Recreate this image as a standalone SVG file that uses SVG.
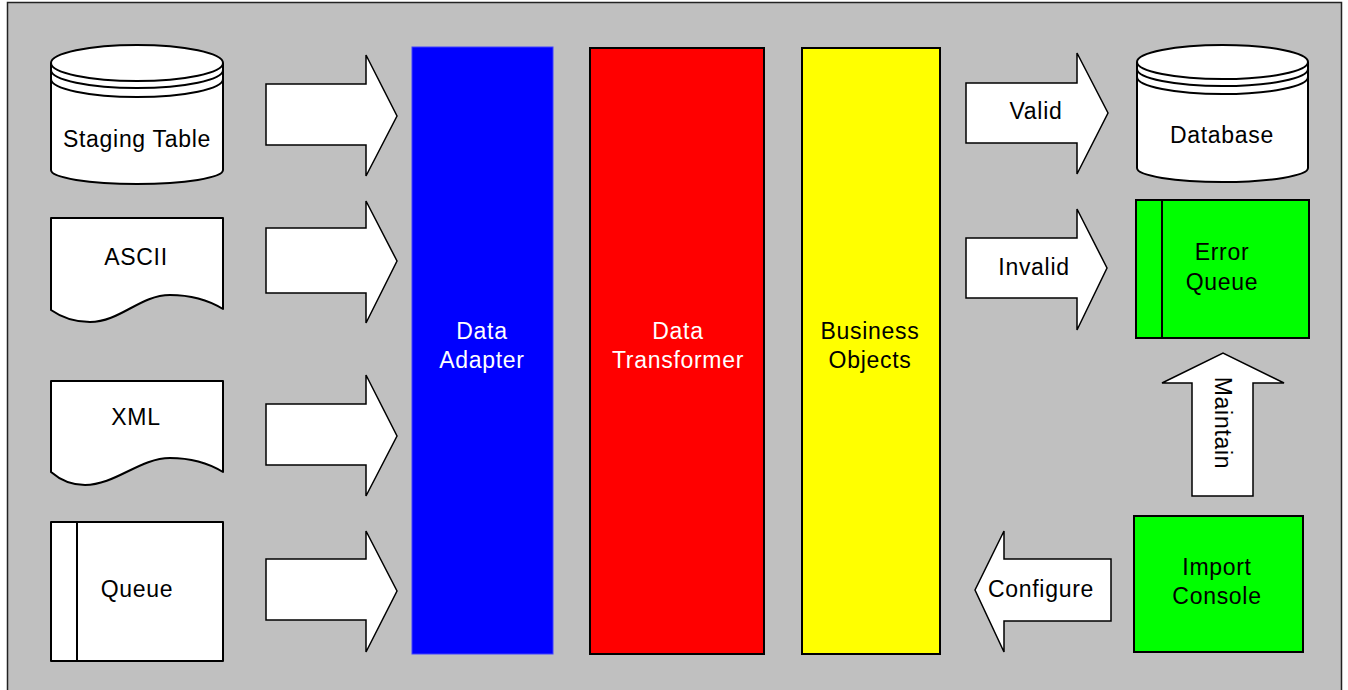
<svg xmlns="http://www.w3.org/2000/svg" width="1348" height="690" viewBox="0 0 1348 690">
<style>
text{font-family:"Liberation Sans",Arial,sans-serif;font-size:23px;letter-spacing:0.7px;text-anchor:middle;fill:#000}
.sh{fill:#fff;stroke:#000;stroke-width:2;stroke-linejoin:round}
.ln{fill:none;stroke:#000;stroke-width:2}
.arr{fill:#fff;stroke:#000;stroke-width:1.5;stroke-linejoin:miter}
.w{fill:#fff}
</style>
<rect x="0" y="0" width="1348" height="690" fill="#fff"/>
<rect x="7.5" y="2.5" width="1334" height="700" fill="#c0c0c0" stroke="#222" stroke-width="1.5"/>

<g id="staging-table">
<path class="sh" d="M51,63 V170 A86 14 0 0 0 223,170 V63"/>
<ellipse class="sh" cx="137" cy="63" rx="86" ry="18"/>
<path class="ln" d="M51,70 A86 18 0 0 0 223,70"/>
<path class="ln" d="M51,79 A86 18 0 0 0 223,79"/>
<text x="137" y="147">Staging Table</text>
</g>

<g id="ascii">
<path class="sh" d="M51,218 H223 V309 Q200,295 170,295 C140,295 120,322 90,322 Q68,322 51,310 Z"/>
<text x="136" y="265">ASCII</text>
</g>

<g id="xml">
<path class="sh" d="M51,381 H223 V472 Q200,458 170,458 C140,458 115,485 85,485 Q66,485 51,472 Z"/>
<text x="136" y="425">XML</text>
</g>

<g id="queue">
<rect class="sh" x="51" y="522" width="172" height="139"/>
<line x1="77" y1="522" x2="77" y2="661" stroke="#000" stroke-width="2"/>
<text x="137" y="597">Queue</text>
</g>

<g id="data-adapter">
<rect x="412" y="47" width="141" height="607" fill="#0000ff" stroke="#4040ff" stroke-width="1"/>
<text x="482" y="339" class="w">Data</text>
<text x="482" y="368" class="w">Adapter</text>
</g>

<g id="data-transformer">
<rect x="590" y="48" width="174" height="606" fill="#ff0000" stroke="#000" stroke-width="2"/>
<text x="678" y="339" class="w">Data</text>
<text x="678" y="368" class="w">Transformer</text>
</g>

<g id="business-objects">
<rect x="802" y="48" width="138" height="606" fill="#ffff00" stroke="#000" stroke-width="2"/>
<text x="870" y="339">Business</text>
<text x="870" y="368">Objects</text>
</g>

<g id="database">
<path class="sh" d="M1137,62 V168 A85.5 14 0 0 0 1308,168 V62"/>
<ellipse class="sh" cx="1222.5" cy="62" rx="85.5" ry="17"/>
<path class="ln" d="M1137,69 A85.5 17 0 0 0 1308,69"/>
<path class="ln" d="M1137,77 A85.5 17 0 0 0 1308,77"/>
<text x="1222" y="143">Database</text>
</g>

<g id="error-queue">
<rect x="1136" y="200" width="173" height="138" fill="#00ff00" stroke="#000" stroke-width="2"/>
<line x1="1162" y1="200" x2="1162" y2="338" stroke="#000" stroke-width="2"/>
<text x="1222" y="260">Error</text>
<text x="1222" y="290">Queue</text>
</g>

<g id="import-console">
<rect x="1134" y="516" width="169" height="136" fill="#00ff00" stroke="#000" stroke-width="2"/>
<text x="1217" y="575">Import</text>
<text x="1217" y="604">Console</text>
</g>

<g id="connectors">
<path class="arr" d="M266,84 H366 V55 L397,116 L366,176 V145 H266 Z"/>
<path class="arr" d="M266,228 H366 V201 L397,261 L366,323 V293 H266 Z"/>
<path class="arr" d="M266,404 H366 V375 L397,436 L366,496 V465 H266 Z"/>
<path class="arr" d="M266,559 H366 V531 L397,591 L366,652 V620 H266 Z"/>
<path class="arr" d="M966,83 H1077 V53 L1108,113 L1077,174 V143 H966 Z"/>
<text x="1036" y="119">Valid</text>
<path class="arr" d="M966,238 H1077 V209 L1107,268 L1077,330 V298 H966 Z"/>
<text x="1034" y="275">Invalid</text>
<path class="arr" d="M1192,496 V383 H1162 L1223,353 L1284,383 H1253 V496 Z"/>
<text x="0" y="0" transform="translate(1215,423) rotate(90)">Maintain</text>
<path class="arr" d="M1111,559 H1004 V531 L975,590 L1004,652 V621 H1111 Z"/>
<text x="1041" y="597">Configure</text>
</g>
</svg>
